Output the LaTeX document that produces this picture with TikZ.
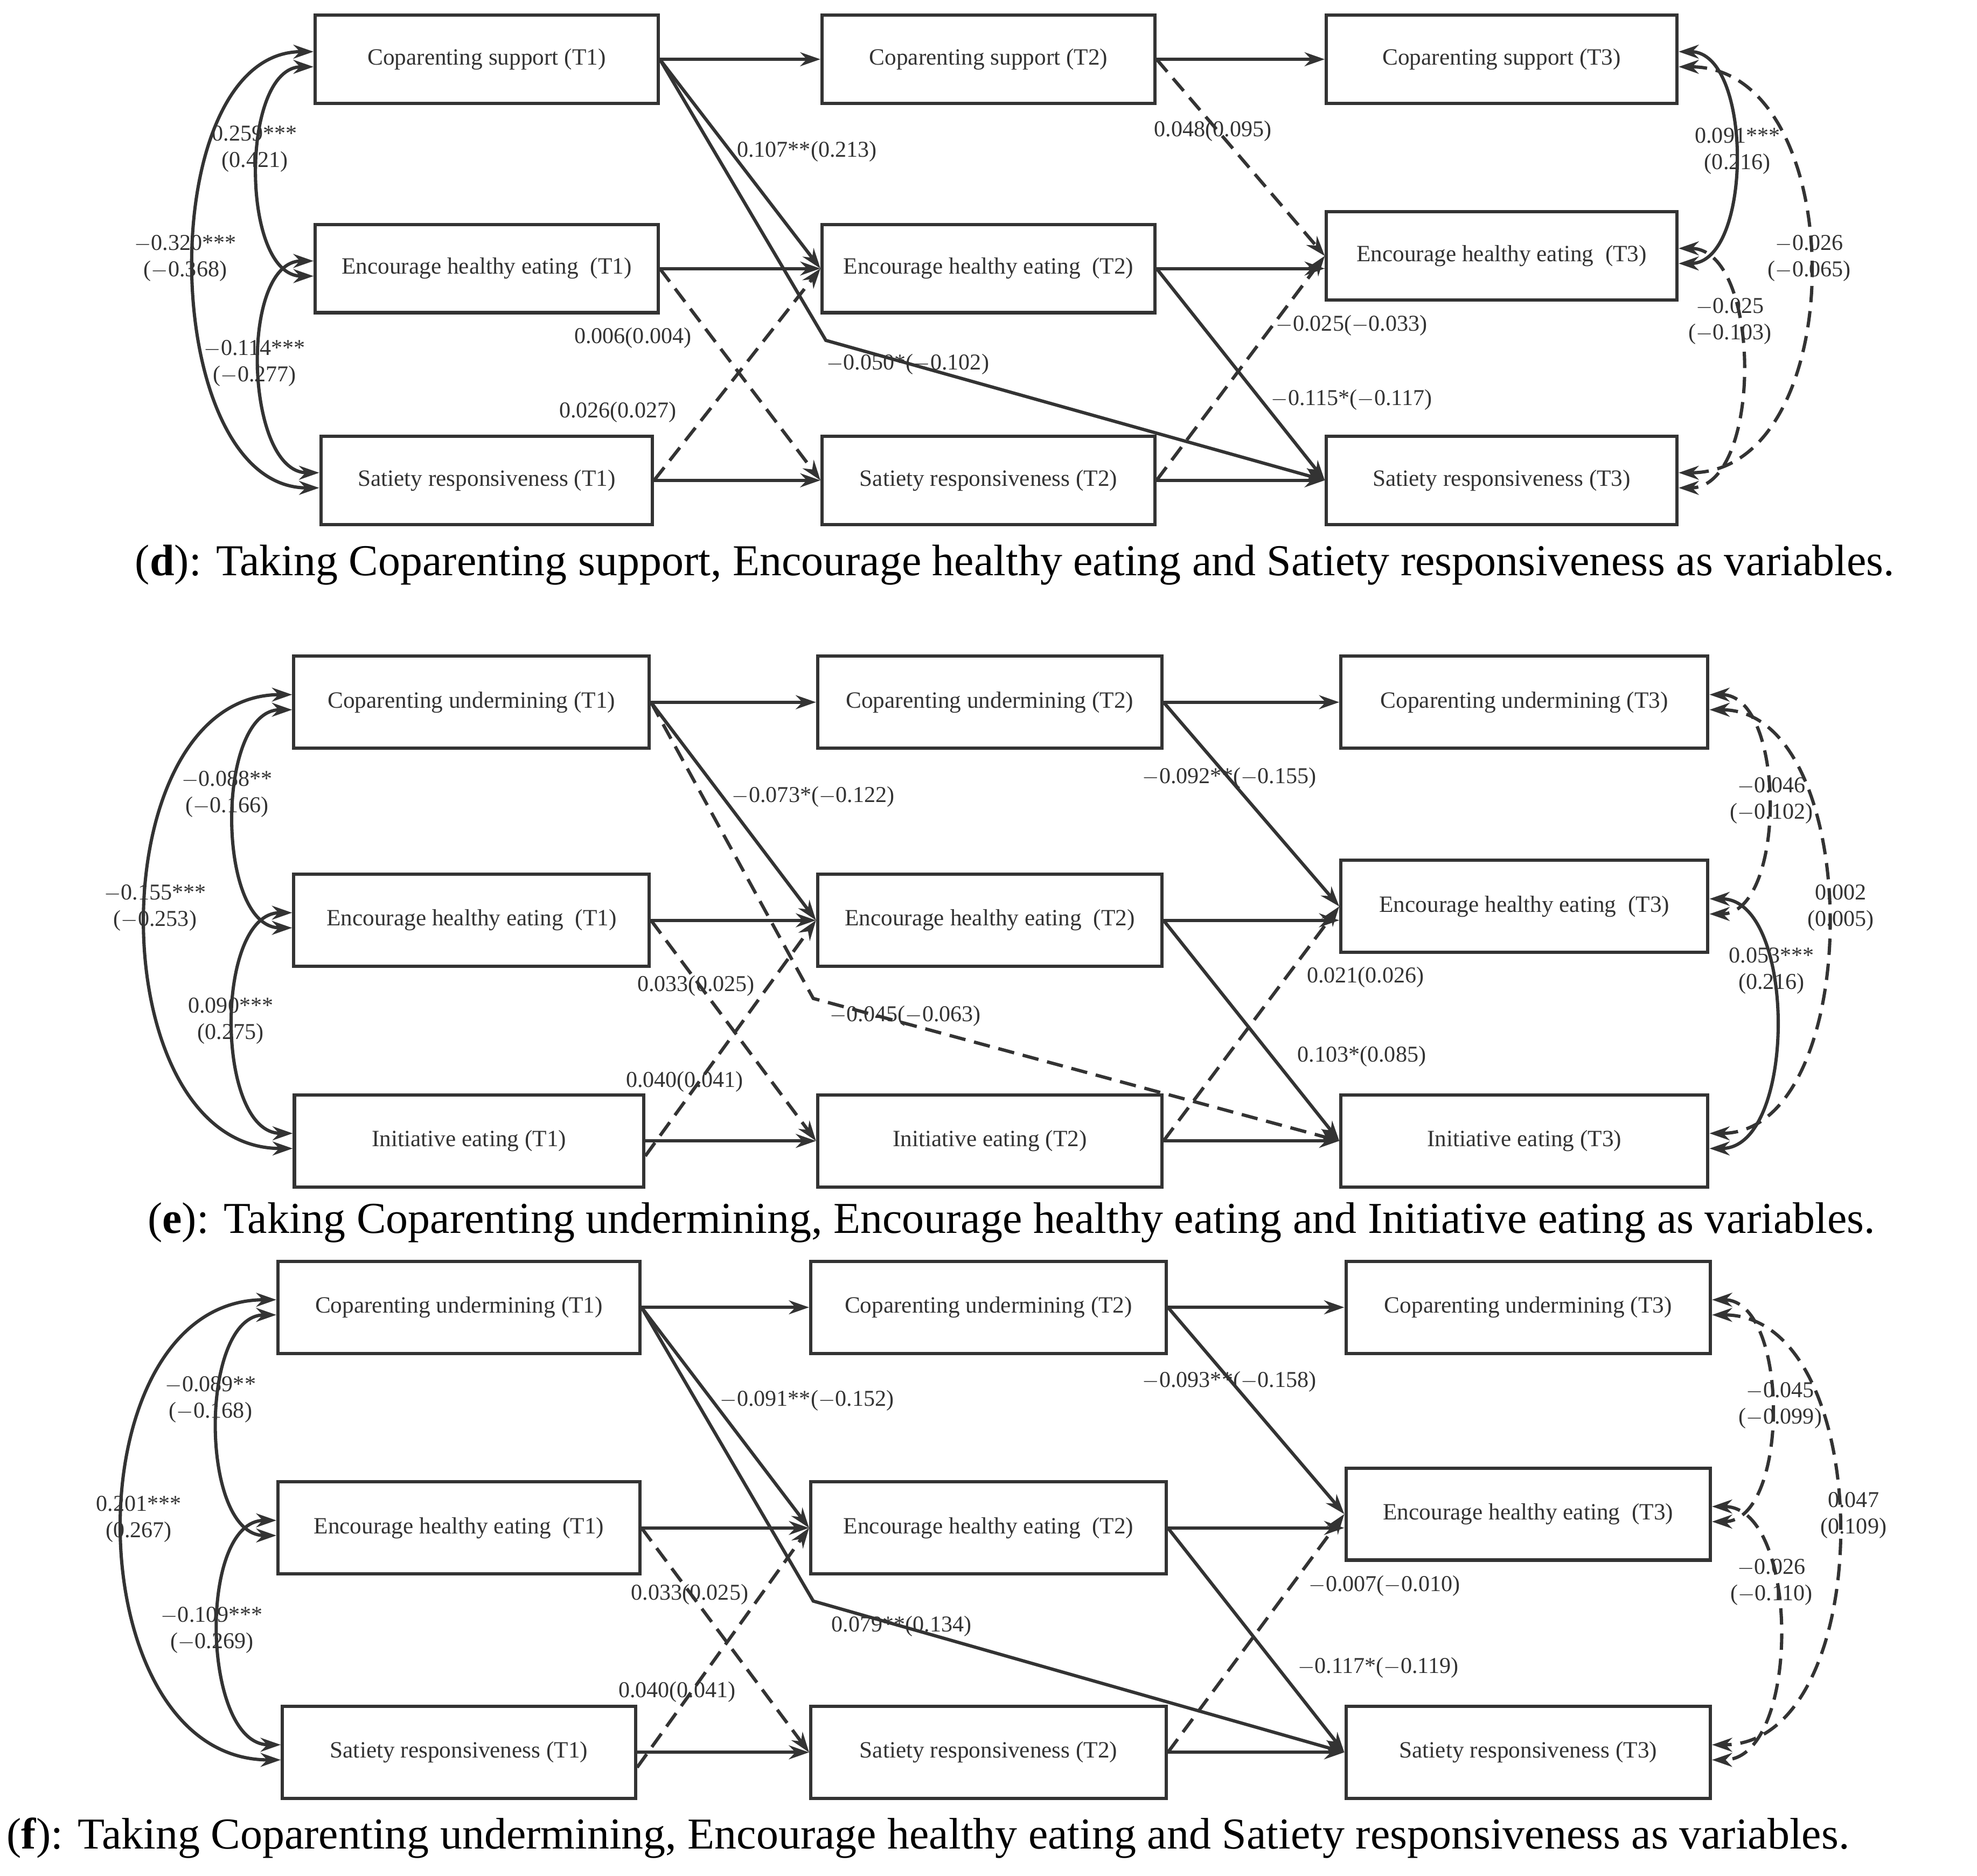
\documentclass[tikz,border=0pt]{standalone}
\usepackage{fontspec}
\setmainfont{Liberation Serif}
\usetikzlibrary{arrows.meta}
\definecolor{ink}{HTML}{333333}
\begin{document}
\begin{tikzpicture}[x=1pt,y=-1pt,
  box/.style={draw=ink,line width=2.6pt,minimum height=70pt,inner sep=0pt,font=\fontsize{18.5}{21}\selectfont,text=ink},
  ar/.style={draw=ink,line width=2.6pt,-{Stealth[length=16pt,width=11pt]}},
  dar/.style={ar,dash pattern=on 13pt off 7pt},
  bi/.style={draw=ink,line width=2.6pt,{Stealth[length=16pt,width=11pt]}-{Stealth[length=16pt,width=11pt]}},
  dbi/.style={bi,dash pattern=on 13pt off 7pt},
  lb/.style={font=\fontsize{18}{21}\selectfont,text=ink,align=center,inner sep=1pt},
  captxt/.style={font=\fontsize{35}{40}\selectfont,anchor=west,inner sep=0pt}]
\useasboundingbox (0,0) rectangle (1568,1488);
% ================= panel d
\node[box,minimum width=272pt] (dAt) at (386,47) {Coparenting support (T1)};
\node[box,minimum width=272pt] (dAm) at (386,213) {Encourage healthy eating\ \ (T1)};
\node[box,minimum width=263pt] (dAb) at (386,381) {Satiety responsiveness (T1)};
\node[box,minimum width=264pt] (dBt) at (784,47) {Coparenting support (T2)};
\node[box,minimum width=264pt] (dBm) at (784,213) {Encourage healthy eating\ \ (T2)};
\node[box,minimum width=264pt] (dBb) at (784,381) {Satiety responsiveness (T2)};
\node[box,minimum width=278pt] (dCt) at (1191,47) {Coparenting support (T3)};
\node[box,minimum width=278pt] (dCm) at (1191,203) {Encourage healthy eating\ \ (T3)};
\node[box,minimum width=278pt] (dCb) at (1191,381) {Satiety responsiveness (T3)};
\coordinate (dK) at (655,270);
\draw[ar] (dAt) -- (dBt); \draw[ar] (dBt) -- (dCt);
\draw[ar] (dAm) -- (dBm); \draw[ar] (dBm.east) -- (dCm.west|-dBm.east);
\draw[ar] (dAb) -- (dBb); \draw[ar] (dBb) -- (dCb);
\draw[ar] (dAt.east) -- (dBm.west);
\draw[ar] (dAt.east) -- (dK) -- (dCb.west);
\draw[dar] (dAm.east) -- (dBb.west);
\draw[dar] (dAb.east) -- (dBm.west);
\draw[dar] (dBt.east) -- (dCm.west);
\draw[ar] (dBm.east) -- (dCb.west);
\draw[dar] (dBb.east) -- (dCm.west);
\node[lb] at (640,120) {0.107**(0.213)};
\node[lb] at (720,289) {$-$0.050*($-$0.102)};
\node[lb] at (502,268) {0.006(0.004)};
\node[lb] at (490,327) {0.026(0.027)};
\node[lb] at (962,104) {0.048(0.095)};
\node[lb] at (1072,317) {$-$0.115*($-$0.117)};
\node[lb] at (1072,258) {$-$0.025($-$0.033)};
\draw[bi] ([yshift=-6pt]dAt.west) to[out=180,in=180,looseness=0.9] ([yshift=-6pt]dAm.west);
\draw[bi] ([yshift=6pt]dAm.west) to[out=180,in=180,looseness=0.9] ([yshift=6pt]dAb.west);
\draw[bi] ([yshift=6pt]dAt.west) to[out=180,in=180,looseness=0.95] ([yshift=-6pt]dAb.west);
\node[lb] at (202,118) {0.259***\\(0.421)};
\node[lb] at (202,288) {$-$0.114***\\($-$0.277)};
\node[lb] at (147,205) {$-$0.320***\\($-$0.368)};
\draw[bi] ([yshift=6pt]dCt.east) to[out=0,in=0,looseness=0.9] ([yshift=-6pt]dCm.east);
\draw[dbi] ([yshift=6pt]dCm.east) to[out=0,in=0,looseness=0.9] ([yshift=-6pt]dCb.east);
\draw[dbi] ([yshift=-6pt]dCt.east) to[out=0,in=0,looseness=1.1] ([yshift=6pt]dCb.east);
\node[lb] at (1378,120) {0.091***\\(0.216)};
\node[lb] at (1372,255) {$-$0.025\\($-$0.103)};
\node[lb] at (1435,205) {$-$0.026\\($-$0.065)};
\node[captxt] at (107,448) {(\textbf{d}): Taking Coparenting support, Encourage healthy eating and Satiety responsiveness as variables.};
% ================= panel e
\node[box,minimum width=282pt,minimum height=73pt] (eAt) at (374,557) {Coparenting undermining (T1)};
\node[box,minimum width=282pt,minimum height=73pt] (eAm) at (374,730) {Encourage healthy eating\ \ (T1)};
\node[box,minimum width=277pt,minimum height=73pt] (eAb) at (372,905) {Initiative eating (T1)};
\node[box,minimum width=273pt,minimum height=73pt] (eBt) at (785,557) {Coparenting undermining (T2)};
\node[box,minimum width=273pt,minimum height=73pt] (eBm) at (785,730) {Encourage healthy eating\ \ (T2)};
\node[box,minimum width=273pt,minimum height=73pt] (eBb) at (785,905) {Initiative eating (T2)};
\node[box,minimum width=291pt,minimum height=73pt] (eCt) at (1209,557) {Coparenting undermining (T3)};
\node[box,minimum width=291pt,minimum height=73pt] (eCm) at (1209,719) {Encourage healthy eating\ \ (T3)};
\node[box,minimum width=291pt,minimum height=73pt] (eCb) at (1209,905) {Initiative eating (T3)};
\coordinate (eK) at (645,792);
\draw[ar] (eAt) -- (eBt); \draw[ar] (eBt) -- (eCt);
\draw[ar] (eAm) -- (eBm); \draw[ar] (eBm.east) -- (eCm.west|-eBm.east);
\draw[ar] (eAb.east|-eBb) -- (eBb); \draw[ar] (eBb) -- (eCb);
\draw[ar] (eAt.east) -- (eBm.west);
\draw[dar] (eAt.east) -- (eK) -- (eCb.west);
\draw[dar] (eAm.east) -- (eBb.west);
\draw[dar] ([yshift=-12pt]eAb.east) -- (eBm.west);
\draw[ar] (eBt.east) -- (eCm.west);
\draw[ar] (eBm.east) -- (eCb.west);
\draw[dar] (eBb.east) -- (eCm.west);
\node[lb] at (645,632) {$-$0.073*($-$0.122)};
\node[lb] at (718,806) {$-$0.045($-$0.063)};
\node[lb] at (552,782) {0.033(0.025)};
\node[lb] at (543,858) {0.040(0.041)};
\node[lb] at (975,617) {$-$0.092**($-$0.155)};
\node[lb] at (1080,838) {0.103*(0.085)};
\node[lb] at (1083,775) {0.021(0.026)};
\draw[bi] ([yshift=-6pt]eAt.west) to[out=180,in=180,looseness=0.9] ([yshift=-6pt]eAm.west);
\draw[bi] ([yshift=6pt]eAm.west) to[out=180,in=180,looseness=0.9] ([yshift=6pt]eAb.west);
\draw[bi] ([yshift=6pt]eAt.west) to[out=180,in=180,looseness=1.1] ([yshift=-6pt]eAb.west);
\node[lb] at (180,630) {$-$0.088**\\($-$0.166)};
\node[lb] at (183,810) {0.090***\\(0.275)};
\node[lb] at (123,720) {$-$0.155***\\($-$0.253)};
\draw[dbi] ([yshift=6pt]eCt.east) to[out=0,in=0,looseness=0.9] ([yshift=-6pt]eCm.east);
\draw[bi] ([yshift=6pt]eCm.east) to[out=0,in=0,looseness=0.9] ([yshift=-6pt]eCb.east);
\draw[dbi] ([yshift=-6pt]eCt.east) to[out=0,in=0,looseness=0.95] ([yshift=6pt]eCb.east);
\node[lb] at (1405,635) {$-$0.046\\($-$0.102)};
\node[lb] at (1405,770) {0.053***\\(0.216)};
\node[lb] at (1460,720) {0.002\\(0.005)};
\node[captxt] at (117,970) {(\textbf{e}): Taking Coparenting undermining, Encourage healthy eating and Initiative eating as variables.};
% ================= panel f
\node[box,minimum width=287pt,minimum height=73pt] (fAt) at (364,1037) {Coparenting undermining (T1)};
\node[box,minimum width=287pt,minimum height=73pt] (fAm) at (364,1212) {Encourage healthy eating\ \ (T1)};
\node[box,minimum width=280pt,minimum height=73pt] (fAb) at (364,1390) {Satiety responsiveness (T1)};
\node[box,minimum width=282pt,minimum height=73pt] (fBt) at (784,1037) {Coparenting undermining (T2)};
\node[box,minimum width=282pt,minimum height=73pt] (fBm) at (784,1212) {Encourage healthy eating\ \ (T2)};
\node[box,minimum width=282pt,minimum height=73pt] (fBb) at (784,1390) {Satiety responsiveness (T2)};
\node[box,minimum width=289pt,minimum height=73pt] (fCt) at (1212,1037) {Coparenting undermining (T3)};
\node[box,minimum width=289pt,minimum height=73pt] (fCm) at (1212,1201) {Encourage healthy eating\ \ (T3)};
\node[box,minimum width=289pt,minimum height=73pt] (fCb) at (1212,1390) {Satiety responsiveness (T3)};
\coordinate (fK) at (645,1270);
\draw[ar] (fAt) -- (fBt); \draw[ar] (fBt) -- (fCt);
\draw[ar] (fAm) -- (fBm); \draw[ar] (fBm.east) -- (fCm.west|-fBm.east);
\draw[ar] (fAb) -- (fBb); \draw[ar] (fBb) -- (fCb);
\draw[ar] (fAt.east) -- (fBm.west);
\draw[ar] (fAt.east) -- (fK) -- (fCb.west);
\draw[dar] (fAm.east) -- (fBb.west);
\draw[dar] ([yshift=-12pt]fAb.east) -- (fBm.west);
\draw[ar] (fBt.east) -- (fCm.west);
\draw[ar] (fBm.east) -- (fCb.west);
\draw[dar] (fBb.east) -- (fCm.west);
\node[lb] at (640,1111) {$-$0.091**($-$0.152)};
\node[lb] at (715,1290) {0.079**(0.134)};
\node[lb] at (547,1265) {0.033(0.025)};
\node[lb] at (537,1342) {0.040(0.041)};
\node[lb] at (975,1096) {$-$0.093**($-$0.158)};
\node[lb] at (1093,1323) {$-$0.117*($-$0.119)};
\node[lb] at (1098,1258) {$-$0.007($-$0.010)};
\draw[bi] ([yshift=-6pt]fAt.west) to[out=180,in=180,looseness=0.9] ([yshift=-6pt]fAm.west);
\draw[bi] ([yshift=6pt]fAm.west) to[out=180,in=180,looseness=0.9] ([yshift=6pt]fAb.west);
\draw[bi] ([yshift=6pt]fAt.west) to[out=180,in=180,looseness=1.15] ([yshift=-6pt]fAb.west);
\node[lb] at (167,1110) {$-$0.089**\\($-$0.168)};
\node[lb] at (168,1293) {$-$0.109***\\($-$0.269)};
\node[lb] at (110,1205) {0.201***\\(0.267)};
\draw[dbi] ([yshift=6pt]fCt.east) to[out=0,in=0,looseness=0.9] ([yshift=-6pt]fCm.east);
\draw[dbi] ([yshift=6pt]fCm.east) to[out=0,in=0,looseness=0.9] ([yshift=-6pt]fCb.east);
\draw[dbi] ([yshift=-6pt]fCt.east) to[out=0,in=0,looseness=1.0] ([yshift=6pt]fCb.east);
\node[lb] at (1412,1115) {$-$0.045\\($-$0.099)};
\node[lb] at (1405,1255) {$-$0.026\\($-$0.110)};
\node[lb] at (1470,1202) {0.047\\(0.109)};
\node[captxt] at (5,1458) {(\textbf{f}): Taking Coparenting undermining, Encourage healthy eating and Satiety responsiveness as variables.};
\end{tikzpicture}
\end{document}
